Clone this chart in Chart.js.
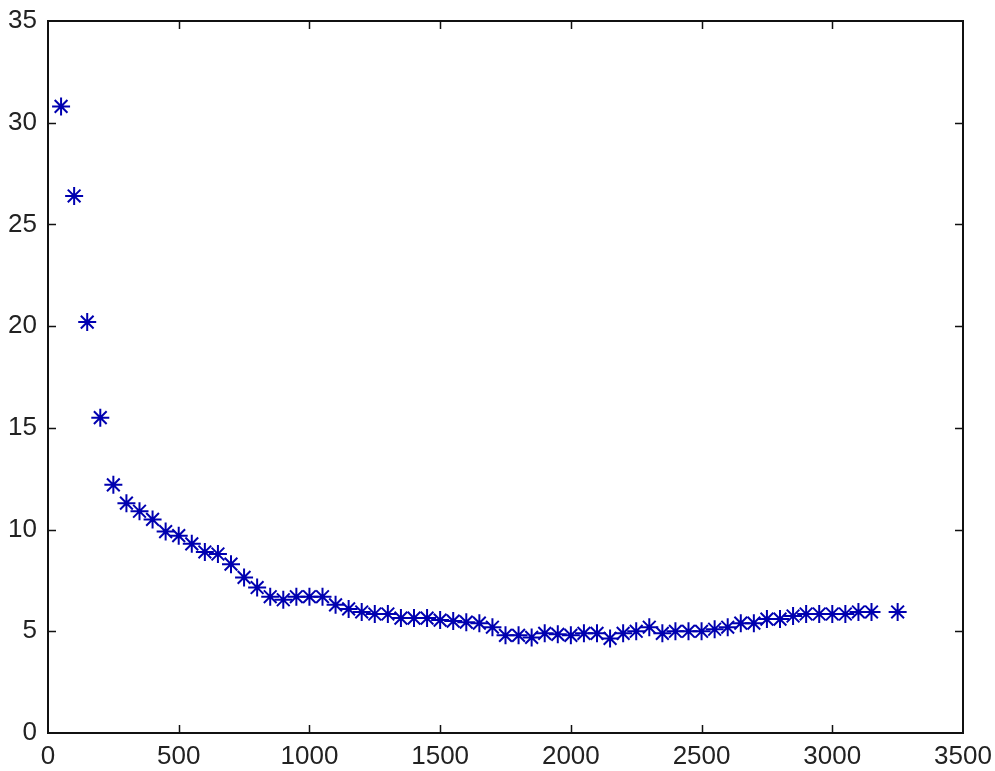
<!DOCTYPE html>
<html>
<head>
<meta charset="utf-8">
<script src="https://cdn.jsdelivr.net/npm/chart.js@4/dist/chart.umd.min.js"></script>
<style>
  html, body { margin: 0; padding: 0; background: #fff; }
  #wrap { width: 995px; height: 771px; }
</style>
</head>
<body>
<div id="wrap"><canvas id="chartMain"></canvas></div>
<script>
// data
const xValues = [50, 100, 150, 200, 250, 300, 350, 400, 450, 500, 550, 600, 650, 700, 750, 800, 850, 900, 950, 1000,
  1050, 1100, 1150, 1200, 1250, 1300, 1350, 1400, 1450, 1500, 1550, 1600, 1650, 1700, 1750, 1800, 1850, 1900, 1950, 2000,
  2050, 2100, 2150, 2200, 2250, 2300, 2350, 2400, 2450, 2500, 2550, 2600, 2650, 2700, 2750, 2800, 2850, 2900, 2950, 3000,
  3050, 3100, 3150, 3250];
const yValues = [30.8, 26.4, 20.2, 15.5, 12.2, 11.3, 10.9, 10.5, 9.9, 9.7, 9.3, 8.9, 8.8, 8.3, 7.65, 7.15, 6.7, 6.55, 6.7, 6.7,
  6.7, 6.3, 6.1, 5.95, 5.85, 5.85, 5.65, 5.65, 5.65, 5.55, 5.5, 5.45, 5.4, 5.2, 4.8, 4.8, 4.7, 4.9, 4.85, 4.8,
  4.9, 4.9, 4.65, 4.9, 5.0, 5.2, 4.9, 5.0, 5.0, 5.0, 5.1, 5.2, 5.4, 5.4, 5.6, 5.6, 5.75, 5.85, 5.85, 5.85,
  5.85, 5.95, 5.95, 5.95];
const xTicks = [0, 500, 1000, 1500, 2000, 2500, 3000, 3500];
const yTicks = [0, 5, 10, 15, 20, 25, 30, 35];

const points = xValues.map((x, i) => ({ x: x, y: yValues[i] }));

// box round the plot with inward ticks, like matlab
const boxPlugin = {
    id: 'box',
    afterDraw(chart) {
        const ctx = chart.ctx;
        const a = chart.chartArea;
        const xs = chart.scales.x, ys = chart.scales.y;
        const len = 8;
        ctx.save();
        ctx.strokeStyle = '#111';
        ctx.lineWidth = 2;
        ctx.strokeRect(a.left, a.top, a.right - a.left, a.bottom - a.top);
        ctx.lineWidth = 1.5;
        ctx.beginPath();
        xTicks.slice(1, -1).forEach(v => {
            const px = Math.round(xs.getPixelForValue(v)) + 0.5;
            ctx.moveTo(px, a.bottom); ctx.lineTo(px, a.bottom - len);
            ctx.moveTo(px, a.top); ctx.lineTo(px, a.top + len);
        });
        yTicks.slice(1, -1).forEach(v => {
            const py = Math.round(ys.getPixelForValue(v)) + 0.5;
            ctx.moveTo(a.left, py); ctx.lineTo(a.left + len, py);
            ctx.moveTo(a.right, py); ctx.lineTo(a.right - len, py);
        });
        ctx.stroke();
        ctx.restore();
    }
};

const tickFont = { family: "'Liberation Sans', Arial, sans-serif", size: 26 };

new Chart(document.getElementById('chartMain').getContext('2d'), {
    type: 'scatter',
    data: {
        datasets: [{
            data: points,
            pointStyle: 'star',
            pointRadius: 9,
            pointBorderWidth: 2,
            borderColor: '#0000b0',
            backgroundColor: '#0000b0',
            showLine: false
        }]
    },
    options: {
        responsive: true,
        maintainAspectRatio: false,
        animation: false,
        layout: { padding: { top: 21, right: 32, left: 0, bottom: 0 } },
        plugins: { legend: { display: false }, tooltip: { enabled: false } },
        scales: {
            x: {
                type: 'linear', min: 0, max: 3500,
                afterBuildTicks: s => { s.ticks = xTicks.map(v => ({ value: v })); },
                afterFit: s => { s.height = 38; s.paddingLeft = 0; s.paddingRight = 0; },
                grid: { display: false, drawTicks: false },
                border: { display: false },
                ticks: { color: '#222', font: tickFont, padding: 8, maxRotation: 0, autoSkip: false,
                         callback: v => String(v) }
            },
            y: {
                type: 'linear', min: 0, max: 35,
                afterBuildTicks: s => { s.ticks = yTicks.map(v => ({ value: v })); },
                afterFit: s => { s.width = 48; s.paddingTop = 0; s.paddingBottom = 0; },
                grid: { display: false, drawTicks: false },
                border: { display: false },
                ticks: { color: '#222', font: tickFont, padding: 11, callback: v => String(v) }
            }
        }
    },
    plugins: [boxPlugin]
});
</script>
</body>
</html>
